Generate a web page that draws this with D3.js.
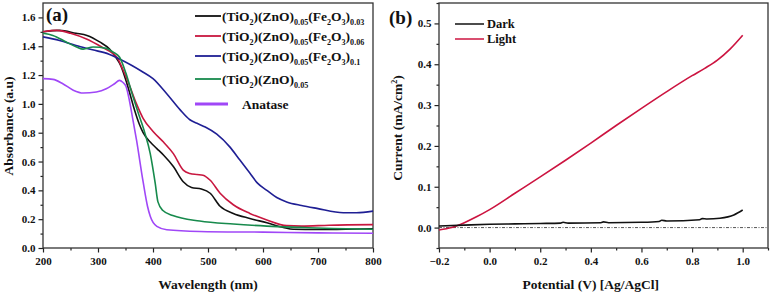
<!DOCTYPE html>
<html>
<head>
<meta charset="utf-8">
<script src="https://cdn.jsdelivr.net/npm/d3@7"></script>
<style>
	body { margin: 0; background: #fff; }
	svg { display: block; }
	text { font-family: 'Liberation Serif', 'Times New Roman', serif; font-weight: bold; fill: #111; }
</style>
</head>
<body>
<svg id="chart" width="770" height="294"></svg>
<script>
// panel (a) absorbance spectra, [wavelength nm, absorbance]
const fe003 = [[200,1.50],[230,1.51],[260,1.49],[280,1.475],[303,1.43],[321,1.38],[331,1.33],[342,1.26],[351,1.16],[358,1.07],[367,0.95],[375,0.86],[382,0.80],[395,0.735],[407,0.69],[419,0.645],[437,0.565],[455,0.46],[470,0.42],[488,0.41],[504,0.38],[522,0.29],[546,0.24],[576,0.205],[607,0.175],[637,0.143],[655,0.13],[700,0.128],[750,0.13],[800,0.134]]
const fe006 = [[200,1.50],[225,1.51],[250,1.49],[279,1.45],[309,1.39],[327,1.35],[335,1.32],[345,1.24],[358,1.12],[370,1.0],[382,0.90],[401,0.805],[419,0.735],[437,0.655],[455,0.54],[467,0.517],[480,0.51],[491,0.505],[504,0.47],[522,0.38],[546,0.30],[576,0.24],[607,0.195],[643,0.155],[670,0.152],[720,0.158],[800,0.162]]
const fe01 = [[200,1.465],[230,1.44],[260,1.405],[290,1.375],[320,1.345],[340,1.31],[360,1.27],[380,1.225],[400,1.175],[425,1.07],[449,0.96],[467,0.89],[480,0.865],[495,0.84],[516,0.79],[540,0.70],[558,0.61],[576,0.52],[590,0.45],[607,0.40],[625,0.35],[643,0.32],[670,0.295],[698,0.275],[746,0.245],[770,0.245],[800,0.256]]
const znoOnly = [[200,1.49],[218,1.475],[242,1.43],[261,1.395],[273,1.38],[291,1.395],[315,1.385],[327,1.36],[339,1.325],[351,1.21],[362,1.07],[372,0.95],[385,0.80],[395,0.655],[404,0.45],[409,0.32],[418,0.26],[436,0.225],[485,0.187],[546,0.166],[607,0.152],[667,0.143],[728,0.135],[800,0.13]]
const anatase = [[200,1.175],[218,1.17],[236,1.14],[255,1.095],[273,1.075],[297,1.083],[315,1.105],[330,1.14],[339,1.163],[345,1.15],[351,1.12],[357,1.025],[363,0.9],[370,0.75],[382,0.46],[390,0.29],[395,0.22],[407,0.15],[425,0.127],[485,0.115],[600,0.11],[700,0.105],[800,0.102]]

// panel (b) photocurrent, [potential V, current mA/cm2]
const dark = [[-0.2,0.004],[-0.1,0.006],[0.0,0.008],[0.1,0.009],[0.2,0.010],[0.28,0.011],[0.29,0.013],[0.31,0.011],[0.44,0.012],[0.45,0.014],[0.47,0.012],[0.6,0.013],[0.67,0.015],[0.68,0.018],[0.7,0.016],[0.83,0.019],[0.84,0.022],[0.86,0.021],[0.91,0.023],[0.965,0.031],[1.0,0.043]]
const light = [[-0.2,-0.006],[-0.15,0.0],[-0.1,0.012],[-0.05,0.027],[0.0,0.044],[0.1,0.084],[0.2,0.124],[0.3,0.165],[0.4,0.207],[0.5,0.25],[0.6,0.292],[0.7,0.333],[0.8,0.372],[0.85,0.39],[0.9,0.41],[0.95,0.437],[1.0,0.471]]

const xTicksA = [200, 300, 400, 500, 600, 700, 800]
const yTicksA = [0.0, 0.2, 0.4, 0.6, 0.8, 1.0, 1.2, 1.4, 1.6]
const xTicksB = [-0.2, 0.0, 0.2, 0.4, 0.6, 0.8, 1.0]
const yTicksB = [0.0, 0.1, 0.2, 0.3, 0.4, 0.5]

const seriesA = [
	{ data: fe003, color: '#111111', label: [['(TiO', 0], ['2', 1], [')(ZnO)', 0], ['0.05', 1], ['(Fe', 0], ['2', 1], ['O', 0], ['3', 1], [')', 0], ['0.03', 1]] },
	{ data: fe006, color: '#c8173f', label: [['(TiO', 0], ['2', 1], [')(ZnO)', 0], ['0.05', 1], ['(Fe', 0], ['2', 1], ['O', 0], ['3', 1], [')', 0], ['0.06', 1]] },
	{ data: fe01, color: '#1f1f94', label: [['(TiO', 0], ['2', 1], [')(ZnO)', 0], ['0.05', 1], ['(Fe', 0], ['2', 1], ['O', 0], ['3', 1], [')', 0], ['0.1', 1]] },
	{ data: znoOnly, color: '#178a4c', label: [['(TiO', 0], ['2', 1], [')(ZnO)', 0], ['0.05', 1]] },
	{ data: anatase, color: '#a047f7', label: [['Anatase', 0]] }
]

const svg = d3.select('#chart')

const xa = d3.scaleLinear().domain([200, 800]).range([43, 373])
const ya = d3.scaleLinear().domain([0, 1.7]).range([248, 3])
const xb = d3.scaleLinear().domain([-0.2, 1.1]).range([439, 768])
const yb = d3.scaleLinear().domain([-0.05, 0.55]).range([248, 3])

function drawFrame(x, y, xTicks, yTicks, xMinor, yMinor, fmt) {
	const [x0, x1] = x.range()
	const [y0, y1] = y.range()
	const g = svg.append('g')

	// minor ticks first, then the labelled axis on top
	g.append('g')
		.attr('transform', `translate(0,${y0})`)
		.call(d3.axisBottom(x).tickValues(xMinor).tickSize(2.5).tickFormat(''))
	g.append('g')
		.attr('transform', `translate(${x0},0)`)
		.call(d3.axisLeft(y).tickValues(yMinor).tickSize(2.5).tickFormat(''))

	g.append('g')
		.attr('transform', `translate(0,${y0})`)
		.call(d3.axisBottom(x).tickValues(xTicks).tickSize(4.5).tickPadding(5).tickFormat(fmt.x))
	g.append('g')
		.attr('transform', `translate(${x0},0)`)
		.call(d3.axisLeft(y).tickValues(yTicks).tickSize(4.5).tickPadding(3).tickFormat(fmt.y))

	g.selectAll('.domain').remove()
	g.selectAll('.tick line').attr('stroke', '#222').attr('stroke-width', 1.2)
	g.selectAll('.tick text')
		.attr('font-family', "'Liberation Serif', serif")
		.attr('font-weight', 'bold')
		.attr('font-size', 11)
		.attr('fill', '#111')

	g.append('rect')
		.attr('x', x0)
		.attr('y', y1)
		.attr('width', x1 - x0)
		.attr('height', y0 - y1)
		.attr('fill', 'none')
		.attr('stroke', '#333')
		.attr('stroke-width', 1.3)
}

function drawLine(data, x, y, color) {
	const line = d3.line()
		.x(d => x(d[0]))
		.y(d => y(d[1]))
		.curve(d3.curveMonotoneX)
	svg.append('path')
		.datum(data)
		.attr('d', line)
		.attr('fill', 'none')
		.attr('stroke', color)
		.attr('stroke-width', 1.6)
}

function subLabel(px, py, parts, size) {
	const t = svg.append('text')
		.attr('x', px)
		.attr('y', py)
		.attr('font-size', size)
	parts.forEach(p => {
		t.append('tspan')
			.attr('font-size', p[1] ? size * 0.6 : size)
			.attr('dy', p[1] ? 4 : (p === parts[0] ? 0 : -4))
			.text(p[0])
	})
	return t
}

// ---------- panel (a)
drawFrame(xa, ya, xTicksA, yTicksA,
	d3.range(250, 800, 100),
	d3.range(0.1, 1.7, 0.2),
	{ x: d3.format('d'), y: d3.format('.1f') })

seriesA.forEach(s => drawLine(s.data, xa, ya, s.color))

const legendRowsA = [16, 36, 56, 79, 104]
seriesA.forEach((s, i) => {
	const ly = legendRowsA[i]
	const isAnatase = i === 4
	svg.append('line')
		.attr('x1', 195)
		.attr('x2', isAnatase ? 228 : 221)
		.attr('y1', ly)
		.attr('y2', ly)
		.attr('stroke', s.color)
		.attr('stroke-width', isAnatase ? 3 : 1.8)
	subLabel(isAnatase ? 242 : 222, ly + 4.5, s.label, 13.5)
})

svg.append('text')
	.attr('x', 46)
	.attr('y', 21)
	.attr('font-family', "'Liberation Sans', Arial, sans-serif")
	.attr('font-size', 19)
	.text('(a)')

svg.append('text')
	.attr('x', xa(500))
	.attr('y', 289)
	.attr('text-anchor', 'middle')
	.attr('font-size', 13.5)
	.text('Wavelength (nm)')

svg.append('text')
	.attr('transform', 'translate(13,126) rotate(-90)')
	.attr('text-anchor', 'middle')
	.attr('font-size', 13.5)
	.text('Absorbance (a.u)')

// ---------- panel (b)
drawFrame(xb, yb, xTicksB, yTicksB,
	d3.range(-0.1, 1.1, 0.2),
	d3.range(-0.05, 0.55, 0.1),
	{ x: d3.format('.1f'), y: d3.format('.1f') })

svg.append('line')
	.attr('x1', xb(-0.2))
	.attr('x2', xb(1.1))
	.attr('y1', yb(0))
	.attr('y2', yb(0))
	.attr('stroke', '#555')
	.attr('stroke-width', 1)
	.attr('stroke-dasharray', '3,1.5,1,1.5')

drawLine(light, xb, yb, '#cc1440')
drawLine(dark, xb, yb, '#111111')

const legendB = [{ label: 'Dark', color: '#111111' }, { label: 'Light', color: '#cc1440' }]
legendB.forEach((d, i) => {
	const ly = 24 + i * 15
	svg.append('line')
		.attr('x1', 455)
		.attr('x2', 484)
		.attr('y1', ly)
		.attr('y2', ly)
		.attr('stroke', d.color)
		.attr('stroke-width', 1.5)
	svg.append('text')
		.attr('x', 487)
		.attr('y', ly + 4)
		.attr('font-size', 12.5)
		.text(d.label)
})

svg.append('text')
	.attr('x', 389)
	.attr('y', 24)
	.attr('font-family', "'Liberation Sans', Arial, sans-serif")
	.attr('font-size', 19)
	.text('(b)')

svg.append('text')
	.attr('x', xb(0.4))
	.attr('y', 289)
	.attr('text-anchor', 'middle')
	.attr('font-size', 13.5)
	.text('Potential (V) [Ag/AgCl]')

const yTitleB = svg.append('text')
	.attr('transform', 'translate(402,128) rotate(-90)')
	.attr('text-anchor', 'middle')
	.attr('font-size', 13.5)
yTitleB.append('tspan').text('Current (mA/cm')
yTitleB.append('tspan').attr('font-size', 8).attr('dy', -5).text('2')
yTitleB.append('tspan').attr('dy', 5).text(')')
</script>
</body>
</html>
